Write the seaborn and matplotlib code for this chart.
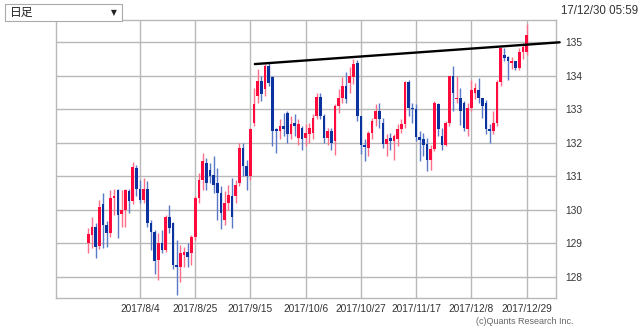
import numpy as np
import pandas as pd
import matplotlib
matplotlib.use("Agg")
import matplotlib.pyplot as plt
from matplotlib.patches import Rectangle
import seaborn as sns

# ---- data (EUR/JPY daily) ----
start_date = "2017-07-17"
opens = [129.02, 129.25, 129.50, 128.92, 130.16, 129.55, 129.30, 130.35, 130.60, 129.88,
         130.00, 130.55, 130.25, 131.25, 130.62, 130.30, 130.62, 129.60, 129.33, 128.50,
         129.00, 128.80, 129.80, 129.60, 128.35, 128.30, 128.65, 128.75, 128.70, 129.20,
         130.35, 130.90, 131.40, 131.20, 131.05, 130.80, 130.50, 129.70, 130.20, 130.40,
         130.40, 130.80, 131.85, 131.30, 131.00, 132.60, 133.40, 133.85, 133.60, 134.30,
         133.95, 132.40, 132.35, 132.50, 132.90, 132.25, 132.60, 132.15, 132.45, 132.15,
         132.25, 132.30, 132.80, 133.38, 132.80, 132.15, 132.35, 132.05, 133.10, 133.35,
         133.70, 133.80, 133.95, 134.38, 132.80, 131.95, 131.85, 132.30, 132.70, 132.95,
         132.60, 131.97, 132.15, 132.05, 132.10, 132.40, 132.55, 133.82, 133.05, 133.00,
         132.17, 132.10, 131.97, 131.50, 131.82, 133.15, 132.20, 131.95, 132.60, 133.98,
         133.30, 133.34, 133.19, 132.40, 133.04, 133.49, 133.58, 133.34, 133.19, 132.40,
         132.35, 132.59, 133.83, 134.62, 134.57, 134.38, 134.43, 134.23, 134.72, 134.72]
highs = [129.47, 129.78, 129.62, 130.30, 130.50, 129.66, 130.60, 130.62, 130.62, 130.60,
         130.62, 130.62, 131.43, 131.35, 130.90, 130.95, 130.85, 129.70, 129.40, 129.30,
         129.40, 129.85, 130.15, 129.65, 129.10, 128.95, 128.90, 129.00, 129.25, 130.40,
         131.10, 131.70, 131.55, 131.40, 131.60, 131.25, 130.70, 130.55, 130.75, 130.95,
         130.90, 132.00, 132.00, 131.50, 132.45, 133.65, 134.20, 134.00, 134.35, 134.40,
         134.00, 132.45, 132.70, 132.90, 132.95, 132.80, 132.85, 132.70, 132.50, 132.55,
         132.60, 132.85, 133.50, 133.50, 132.85, 132.45, 132.45, 133.15, 133.60, 133.95,
         134.10, 134.25, 134.50, 134.48, 132.80, 132.10, 132.35, 132.75, 133.15, 133.20,
         132.75, 132.25, 132.30, 132.25, 132.55, 132.70, 133.85, 133.88, 133.20, 133.15,
         132.35, 132.30, 132.15, 131.95, 133.25, 133.20, 132.45, 132.65, 134.00, 134.28,
         133.98, 133.63, 133.25, 133.20, 133.88, 133.80, 133.93, 133.34, 133.29, 132.55,
         132.94, 133.88, 134.85, 134.82, 134.60, 134.55, 134.45, 134.82, 134.97, 135.56]
lows = [128.70, 128.87, 128.55, 128.82, 128.87, 128.90, 129.20, 129.85, 129.17, 129.50,
        129.50, 129.90, 130.16, 130.40, 130.20, 130.20, 129.50, 128.80, 128.10, 127.90,
        128.70, 128.75, 129.30, 128.25, 127.45, 127.85, 128.30, 128.30, 128.35, 129.10,
        130.20, 130.60, 130.60, 130.80, 130.50, 129.70, 129.43, 129.55, 130.00, 129.45,
        130.20, 130.70, 131.00, 130.60, 130.90, 132.50, 133.20, 133.25, 133.40, 133.70,
        131.90, 131.70, 132.10, 132.20, 132.00, 132.10, 132.20, 131.95, 131.80, 131.90,
        132.00, 132.10, 132.70, 132.70, 132.00, 131.95, 131.80, 131.65, 132.90, 133.20,
        133.20, 133.50, 133.75, 132.65, 131.68, 131.45, 131.60, 132.10, 132.50, 132.45,
        131.85, 131.60, 131.80, 131.50, 131.90, 132.30, 132.45, 132.80, 132.60, 132.05,
        131.45, 131.60, 131.15, 131.20, 131.75, 132.20, 131.80, 131.90, 132.50, 132.95,
        133.20, 132.54, 132.35, 132.20, 132.95, 133.30, 133.20, 132.74, 132.25, 132.00,
        132.25, 132.50, 133.70, 134.43, 133.88, 134.20, 134.18, 134.18, 134.50, 134.62]
closes = [129.29, 129.50, 128.90, 130.10, 129.56, 129.30, 130.35, 130.42, 129.85, 130.00,
          130.58, 130.25, 131.28, 130.62, 130.30, 130.62, 129.60, 129.33, 128.48, 129.00,
          128.80, 129.78, 129.45, 128.35, 128.30, 128.70, 128.75, 128.60, 129.20, 130.35,
          130.90, 131.45, 130.80, 131.00, 130.75, 130.50, 129.92, 130.20, 130.45, 129.80,
          130.75, 131.85, 131.30, 131.00, 132.40, 133.15, 133.85, 133.45, 134.30, 133.80,
          132.35, 132.35, 132.50, 132.40, 132.25, 132.55, 132.50, 132.55, 132.10, 132.30,
          132.45, 132.75, 133.38, 132.80, 132.15, 132.35, 132.00, 133.10, 133.35, 133.70,
          133.30, 134.00, 134.35, 132.80, 131.95, 131.88, 132.30, 132.65, 132.95, 132.70,
          131.97, 132.12, 132.05, 132.20, 132.40, 132.55, 133.82, 133.05, 133.00, 132.17,
          132.07, 131.95, 131.50, 131.82, 133.18, 132.40, 131.95, 132.60, 133.98, 133.48,
          133.34, 132.94, 132.45, 133.04, 133.58, 133.63, 133.34, 133.09, 132.40, 132.35,
          132.59, 133.83, 134.82, 134.52, 134.43, 134.43, 134.23, 134.72, 134.87, 135.22]
tick_dates = ["2017-08-04", "2017-08-25", "2017-09-15", "2017-10-06",
              "2017-10-27", "2017-11-17", "2017-12-08", "2017-12-29"]
tick_labels = ["2017/8/4", "2017/8/25", "2017/9/15", "2017/10/6",
               "2017/10/27", "2017/11/17", "2017/12/8", "2017/12/29"]
y_ticks = [128, 129, 130, 131, 132, 133, 134, 135]
trend_x = [45.2, 128.0]      # day position
trend_y = [134.35, 135.0]    # price

# ---- build table ----
dates = pd.bdate_range(start_date, periods=len(closes))
df = pd.DataFrame({"date": dates, "open": opens, "high": highs,
                   "low": lows, "close": closes})
df["pos"] = np.arange(len(df))
df["up"] = df["close"] >= df["open"]

sns.set_theme(style="white")
plt.rcParams["font.family"] = ["Liberation Sans", "Noto Sans CJK JP", "DejaVu Sans"]

W, H = 640, 328
fig = plt.figure(figsize=(W / 100, H / 100), dpi=100)
L, R, T, B = 56, 556, 19.5, 298
ax = fig.add_axes([L / W, 1 - B / H, (R - L) / W, (B - T) / H])

grid_c = "#b8b8b8"
ax.set_xlim(-8.8, 127.0)
ax.set_ylim(127.37, 135.68)
tick_pos = dates.get_indexer(pd.to_datetime(tick_dates))
ax.set_xticks(tick_pos)
ax.set_xticklabels(tick_labels)
ax.set_yticks(y_ticks)
ax.set_yticklabels([str(v) for v in y_ticks])
ax.yaxis.tick_right()
ax.grid(True, color=grid_c, linewidth=1.0)
ax.set_axisbelow(True)
for s in ax.spines.values():
    s.set_color(grid_c)
    s.set_linewidth(1.0)
ax.tick_params(axis="both", length=0, colors="#333333")
ax.tick_params(axis="x", labelsize=7.3, pad=4)
ax.tick_params(axis="y", labelsize=7.3, pad=7)

red, blue = "#ff0a3c", "#0a33a0"
red_w, blue_w = "#ff6f8c", "#5a78c8"
up = df[df["up"]]
dn = df[~df["up"]]
ax.vlines(up["pos"], up["low"], up["high"], color=red_w, linewidth=1.0, zorder=2)
ax.vlines(dn["pos"], dn["low"], dn["high"], color=blue_w, linewidth=1.0, zorder=2)
bw = 0.72
hu = np.maximum(up["close"] - up["open"], 0.04)
hd = np.maximum(dn["open"] - dn["close"], 0.04)
ax.bar(up["pos"], hu, bottom=up["open"], width=bw, color=red, linewidth=0, zorder=3)
ax.bar(dn["pos"], hd, bottom=dn["close"], width=bw, color=blue, linewidth=0, zorder=3)

tdf = pd.DataFrame({"x": trend_x, "y": trend_y})
ln = sns.lineplot(data=tdf, x="x", y="y", ax=ax, color="black", linewidth=1.7,
                  zorder=5)
for line in ax.get_lines():
    line.set_clip_on(False)
ax.set_xlabel("")
ax.set_ylabel("")

# header widgets
box = Rectangle((5 / W, 1 - 21 / H), 117 / W, 17 / H, transform=fig.transFigure,
                facecolor="white", edgecolor="#aaaaaa", linewidth=0.8)
fig.add_artist(box)
fig.text(10 / W, 1 - 12.5 / H, "日足", fontsize=8.5, va="center", ha="left",
         color="#222222", family=["Noto Sans CJK JP", "DejaVu Sans"])
fig.text(113.5 / W, 1 - 12.5 / H, "▼", fontsize=5.5, va="center", ha="center",
         color="#222222", family=["DejaVu Sans"])
fig.text(638 / W, 1 - 11 / H, "17/12/30 05:59", fontsize=8.3, va="center",
         ha="right", color="#333333")
fig.text(574 / W, 1 - 322 / H, "(c)Quants Research Inc.", fontsize=6.5,
         va="center", ha="right", color="#666666")

fig.savefig("out.png", dpi=100)
